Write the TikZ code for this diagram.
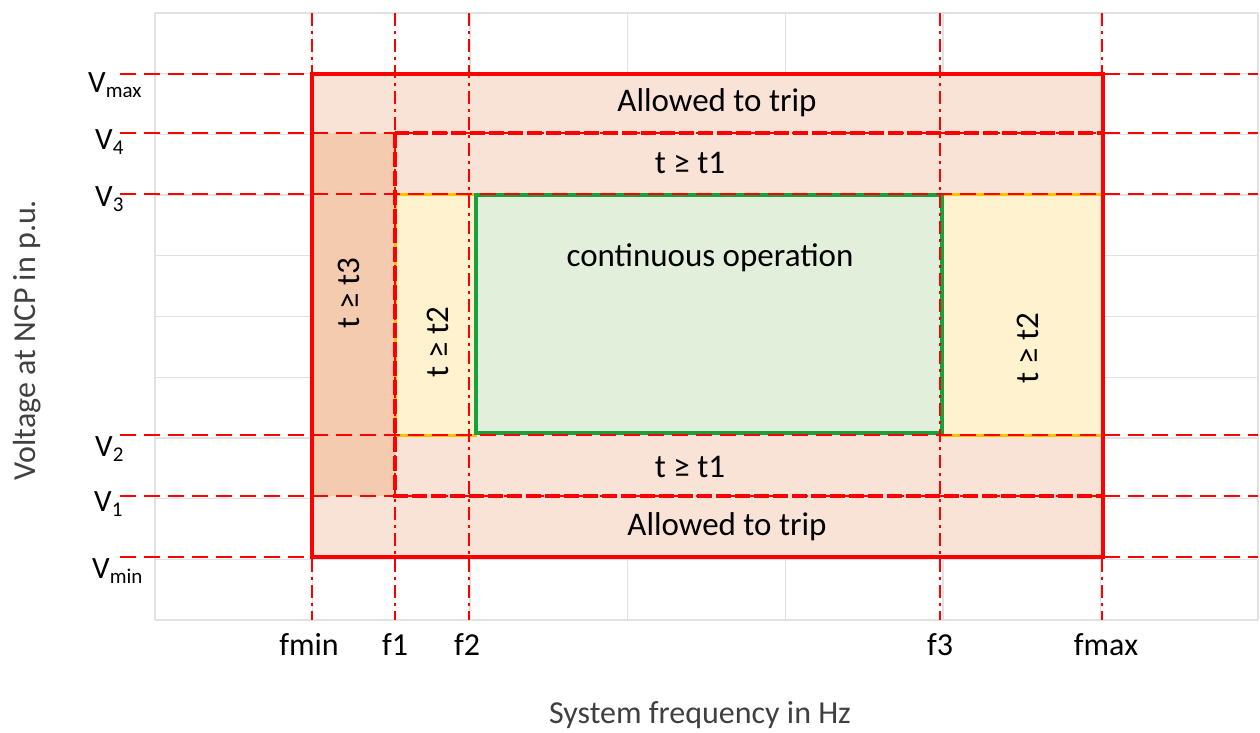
\documentclass[tikz,border=0pt]{standalone}
\usepackage{fontspec}
\setmainfont{Carlito}
\definecolor{peach}{RGB}{249,227,214}
\definecolor{darkpeach}{RGB}{245,203,176}
\definecolor{paleyellow}{RGB}{255,242,206}
\definecolor{palegreen}{RGB}{226,239,218}
\definecolor{greenline}{RGB}{24,160,60}
\definecolor{orangeline}{RGB}{255,192,0}
\definecolor{gridgrey}{RGB}{225,225,225}
\definecolor{axisgrey}{RGB}{64,64,64}
\tikzset{
  gridline/.style={draw=gridgrey, line width=1.3pt},
  hrefline/.style={draw=red, line width=2.2pt, dash pattern=on 16pt off 8pt},
  vrefline/.style={draw=red, line width=1.8pt, dash pattern=on 13pt off 5pt on 3pt off 5pt},
  outerbox/.style={draw=red, line width=4.5pt, line join=miter},
  innerbox/.style={draw=red, line width=4.5pt, dash pattern=on 15pt off 4pt},
  greenbox/.style={draw=greenline, line width=3.5pt},
  yellowbox/.style={draw=orangeline, line width=3pt},
  lbl/.style={font=\fontsize{33}{38}\selectfont, inner sep=0pt},
  axislbl/.style={font=\fontsize{32}{37}\selectfont, text=axisgrey, inner sep=0pt},
  vlbl/.style={font=\fontsize{31}{35}\selectfont, inner sep=0pt, anchor=base west},
  flbl/.style={font=\fontsize{32}{36}\selectfont, inner sep=0pt, anchor=base},
}
\newcommand{\subs}[1]{\raisebox{-5pt}{\fontsize{21}{24}\selectfont #1}}
\begin{document}
\begin{tikzpicture}[x=1pt,y=-1pt]
\useasboundingbox (0,0) rectangle (1260,732);
% grid
\foreach \i in {0,...,7} \draw[gridline] ({155+157.57*\i},13) -- ({155+157.57*\i},620);
\foreach \j in {0,...,10} \draw[gridline] (155,{13+60.7*\j}) -- (1258,{13+60.7*\j});
% fills
\fill[peach] (312,74) rectangle (1103,557);
\fill[darkpeach] (312,133) rectangle (395,496);
\filldraw[fill=paleyellow, yellowbox] (395,194) rectangle (475,435);
\filldraw[fill=paleyellow, yellowbox] (942,194) rectangle (1103,435);
\filldraw[fill=palegreen, greenbox] (476,195) rectangle (942,433);
% boxes
\draw[outerbox] (312,74) rectangle (1103,557);
\draw[innerbox] (395,133) rectangle (1103,496);
% reference lines
\foreach \y in {74,133,194,435,496,557} \draw[hrefline] (120,\y) -- (1258,\y);
\foreach \x in {312,395,469,940,1102} \draw[vrefline] (\x,13) -- (\x,620);
% labels
\node[lbl] (trip1) at (717,103) {Allowed to trip};
\node[lbl] (trip2) at (727,527) {Allowed to trip};
\node[lbl] (t1a) at (690,163) {t ≥ t1};
\node[lbl] (t1b) at (690,467) {t ≥ t1};
\node[lbl] (cont) at (710,258) {continuous operation};
\node[lbl, rotate=90] (t3) at (349,293) {t ≥ t3};
\node[lbl, rotate=90] (t2a) at (438,342) {t ≥ t2};
\node[lbl, rotate=90] (t2b) at (1028,348) {t ≥ t2};
% V labels
\node[vlbl] (vmax) at (88,92) {V\subs{max}};
\node[vlbl] (v4) at (95,149) {V\subs{4}};
\node[vlbl] (v3) at (95,206) {V\subs{3}};
\node[vlbl] (v2) at (95,456) {V\subs{2}};
\node[vlbl] (v1) at (94,511) {V\subs{1}};
\node[vlbl] (vmin) at (92,578) {V\subs{min}};
% f labels
\node[flbl] (fmin) at (309,655) {fmin};
\node[flbl] (f1) at (395,655) {f1};
\node[flbl] (f2) at (467,655) {f2};
\node[flbl] (f3) at (940,655) {f3};
\node[flbl] (fmax) at (1106,655) {fmax};
% axis labels
\node[axislbl, anchor=base] (xlab) at (700,723) {System frequency in Hz};
\node[axislbl, rotate=90] (ylab) at (27,340) {Voltage at NCP in p.u.};
\end{tikzpicture}
\end{document}
